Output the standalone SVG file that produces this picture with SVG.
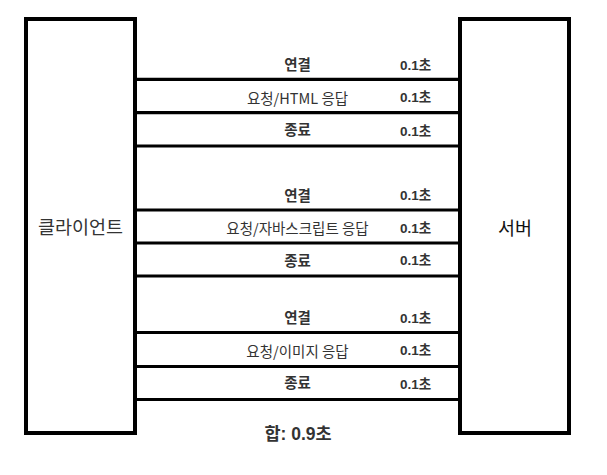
<svg xmlns="http://www.w3.org/2000/svg" width="607" height="475" viewBox="0 0 607 475">
<style>
.box{fill:#fff;stroke:#000;stroke-width:4}
.ln{stroke:#000;stroke-width:3.2;fill:none}
text{font-family:"Noto Sans CJK KR","Liberation Sans",sans-serif;fill:#333;text-anchor:middle;dominant-baseline:central}
.lb{font-size:14.5px;font-weight:bold}
.lr{font-size:14.5px;font-weight:normal}
.t{font-size:13.5px;font-weight:bold;font-family:"Liberation Sans","Noto Sans CJK KR",sans-serif}
.big{font-size:18.5px}
.sum{font-size:17.5px;font-weight:bold;font-family:"Liberation Sans","Noto Sans CJK KR",sans-serif}
</style>
<rect width="607" height="475" fill="#fff"/>
<g id="client">
<rect class="box" x="26" y="19" width="109" height="414"/>
<text class="big" x="80.5" y="226">클라이언트</text>
</g>
<g id="server">
<rect class="box" x="460" y="19" width="109" height="414"/>
<text class="big" x="515" y="226.5" style="fill:#111">서버</text>
</g>
<g id="connectors">
<line class="ln" x1="135" y1="79.3" x2="460" y2="79.3"/>
<line class="ln" x1="135" y1="112.7" x2="460" y2="112.7"/>
<line class="ln" x1="135" y1="146" x2="460" y2="146"/>
<line class="ln" x1="135" y1="210" x2="460" y2="210"/>
<line class="ln" x1="135" y1="243" x2="460" y2="243"/>
<line class="ln" x1="135" y1="276" x2="460" y2="276"/>
<line class="ln" x1="135" y1="332.5" x2="460" y2="332.5"/>
<line class="ln" x1="135" y1="366.5" x2="460" y2="366.5"/>
<line class="ln" x1="135" y1="399.5" x2="460" y2="399.5"/>
</g>
<g id="labels">
<text class="lb" x="297.5" y="63.5">연결</text>
<text class="t" x="415.5" y="65.5">0.1초</text>
<text class="lr" x="297.5" y="97">요청/HTML 응답</text>
<text class="t" x="415.5" y="97.5">0.1초</text>
<text class="lb" x="297.5" y="128">종료</text>
<text class="t" x="415.5" y="131.5">0.1초</text>

<text class="lb" x="297.5" y="194">연결</text>
<text class="t" x="415.5" y="195">0.1초</text>
<text class="lr" x="297.5" y="227">요청/자바스크립트 응답</text>
<text class="t" x="415.5" y="228">0.1초</text>
<text class="lb" x="297.5" y="259">종료</text>
<text class="t" x="415.5" y="260">0.1초</text>

<text class="lb" x="297.5" y="316.5">연결</text>
<text class="t" x="415.5" y="318.5">0.1초</text>
<text class="lr" x="297.5" y="350">요청/이미지 응답</text>
<text class="t" x="415.5" y="350.5">0.1초</text>
<text class="lb" x="297.5" y="381.5">종료</text>
<text class="t" x="415.5" y="384.5">0.1초</text>

<text class="sum" x="298" y="433.5">합: 0.9초</text>
</g>
</svg>
